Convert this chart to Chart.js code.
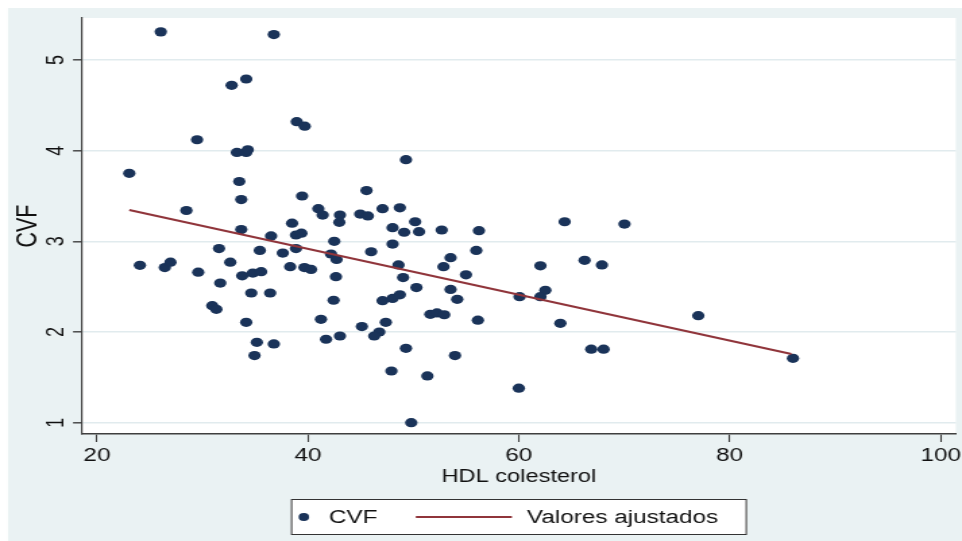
<!DOCTYPE html>
<html>
<head>
<meta charset="utf-8">
<script src="https://cdn.jsdelivr.net/npm/chart.js@4.4.1/dist/chart.umd.min.js"></script>
<style>
  html, body { margin: 0; padding: 0; background: #ffffff; }
  #c { display: block; width: 962px; height: 541px; }
</style>
</head>
<body>
<canvas id="c" width="713" height="541" style="width:962px;height:541px;display:block"></canvas>
<script>
// ---- data ----
const hdl = [26.05, 36.77, 32.77, 34.15, 38.94, 39.70, 29.49, 33.27, 34.15, 34.30,
  49.30, 23.06, 33.49, 33.68, 39.45, 45.56, 28.48, 40.99, 41.40, 43.04,
  44.96, 45.69, 47.08, 48.72, 42.98, 33.68, 38.50, 36.51, 38.87, 39.38,
  48.03, 49.13, 42.50, 31.57, 35.44, 37.62, 38.87, 42.19, 42.72, 46.00,
  48.03, 24.07, 26.43, 26.97, 29.60, 32.64, 31.69, 33.77, 34.78, 35.57,
  38.32, 39.67, 40.30, 42.66, 48.59, 49.03, 34.63, 36.42, 42.44, 30.93,
  31.32, 47.08, 48.03, 48.72, 34.15, 41.24, 47.39, 46.77, 46.29, 45.12,
  41.72, 43.04, 35.16, 36.77, 34.94, 49.30, 47.92, 49.80, 50.17, 50.54,
  52.69, 56.22, 64.35, 55.97, 53.53, 52.86, 54.99, 62.05, 50.29, 53.53,
  54.16, 62.52, 62.05, 60.07, 51.61, 52.24, 52.93, 56.12, 63.94, 53.95,
  51.33, 60.00, 70.02, 66.24, 67.88, 66.87, 68.04, 77.02, 86.00];
const cvf = [5.31, 5.28, 4.72, 4.79, 4.32, 4.27, 4.12, 3.98, 3.98, 4.01,
  3.90, 3.75, 3.66, 3.46, 3.50, 3.56, 3.34, 3.36, 3.29, 3.29,
  3.30, 3.28, 3.36, 3.37, 3.21, 3.13, 3.20, 3.06, 3.07, 3.09,
  3.15, 3.10, 3.00, 2.92, 2.90, 2.87, 2.92, 2.86, 2.80, 2.885,
  2.97, 2.735, 2.71, 2.77, 2.66, 2.77, 2.54, 2.62, 2.65, 2.665,
  2.72, 2.71, 2.69, 2.61, 2.74, 2.60, 2.43, 2.43, 2.35, 2.29,
  2.25, 2.345, 2.37, 2.41, 2.107, 2.14, 2.107, 2.00, 1.956, 2.06,
  1.92, 1.956, 1.886, 1.868, 1.74, 1.82, 1.57, 1.00, 3.216, 3.106,
  3.125, 3.117, 3.216, 2.90, 2.82, 2.72, 2.63, 2.73, 2.49, 2.47,
  2.36, 2.46, 2.39, 2.39, 2.195, 2.21, 2.19, 2.13, 2.096, 1.74,
  1.515, 1.38, 3.19, 2.79, 2.74, 1.81, 1.81, 2.18, 1.71];
const fitHdl = [23.06, 85.85];
const fitCvf = [3.345, 1.757];
const xTicks = [20, 40, 60, 80, 100];
const yTicks = [1, 2, 3, 4, 5];
const seriesNames = ['CVF', 'Valores ajustados'];
const xTitle = 'HDL colesterol';
const yTitle = 'CVF';

// ---- styling ----
const NAVY = '#1a3359';
const MAROON = '#90353b';
const OUTER = '#eaf2f3';
const GRID = '#e1ebee';
const AXIS = '#3f3f3f';
const FONT = '"Liberation Sans", Arial, Helvetica, sans-serif';

const scatterData = hdl.map((x, i) => ({ x: x, y: cvf[i] }));
const fitData = fitHdl.map((x, i) => ({ x: x, y: fitCvf[i] }));

const bgPlugin = {
  id: 'bg',
  beforeDraw(chart) {
    const { ctx, width, height, chartArea: a } = chart;
    ctx.save();
    ctx.fillStyle = '#ffffff';
    ctx.fillRect(0, 0, width, height);
    ctx.fillStyle = OUTER;
    ctx.fillRect(5.9, 8, width - 5.9, height - 8);
    ctx.fillStyle = '#ffffff';
    ctx.fillRect(a.left, a.top, a.right - a.left, a.bottom - a.top);
    ctx.restore();
  }
};

const yLabelPlugin = {
  id: 'ylabels',
  afterDraw(chart) {
    const { ctx } = chart;
    const ys = chart.scales.y;
    ctx.save();
    ctx.fillStyle = '#111';
    ctx.font = '18px ' + FONT;
    ctx.textAlign = 'center';
    ctx.textBaseline = 'middle';
    yTicks.forEach(v => {
      const py = ys.getPixelForValue(v);
      ctx.save();
      ctx.translate(41.5, py);
      ctx.rotate(-Math.PI / 2);
      ctx.fillText(String(v), 0, 1);
      ctx.restore();
    });
    ctx.restore();
  }
};

const legendPlugin = {
  id: 'boxlegend',
  afterDraw(chart) {
    const { ctx, chartArea: a } = chart;
    const ds = chart.data.datasets;
    const boxW = 338, boxH = 36;
    const cx = (a.left + a.right) / 2;
    const L = cx - boxW / 2, T = 499;
    const midY = T + boxH / 2;
    ctx.save();
    ctx.fillStyle = '#ffffff';
    ctx.fillRect(L, T, boxW, boxH);
    ctx.strokeStyle = '#333';
    ctx.lineWidth = 1;
    ctx.strokeRect(L + 0.5, T + 0.5, boxW - 1, boxH - 1);
    // scatter marker
    ctx.fillStyle = ds[1].backgroundColor;
    ctx.beginPath();
    ctx.arc(L + 9.6, midY, 3.9, 0, Math.PI * 2);
    ctx.fill();
    ctx.fillStyle = '#111';
    ctx.font = '18px ' + FONT;
    ctx.textAlign = 'left';
    ctx.textBaseline = 'middle';
    ctx.fillText(ds[1].label, L + 28.2, midY + 1);
    // line marker
    ctx.strokeStyle = ds[0].borderColor;
    ctx.lineWidth = 2;
    ctx.beginPath();
    ctx.moveTo(L + 92.6, midY);
    ctx.lineTo(L + 163.8, midY);
    ctx.stroke();
    ctx.fillText(ds[0].label, L + 174.9, midY + 1);
    ctx.restore();
  }
};

new Chart(document.getElementById('c'), {
  data: {
    datasets: [
      {
        type: 'line',
        label: seriesNames[1],
        data: fitData,
        borderColor: MAROON,
        backgroundColor: MAROON,
        borderWidth: 2,
        pointRadius: 0,
        fill: false,
        tension: 0,
        order: 0
      },
      {
        type: 'scatter',
        label: seriesNames[0],
        data: scatterData,
        backgroundColor: NAVY,
        borderColor: NAVY,
        borderWidth: 0,
        pointRadius: 4.6,
        pointStyle: 'circle',
        order: 1
      }
    ]
  },
  options: {
    responsive: false,
    animation: false,
    events: [],
    layout: { padding: { top: 18, right: 3, bottom: 0, left: 0 } },
    plugins: {
      legend: { display: false },
      tooltip: { enabled: false },
      title: { display: false }
    },
    scales: {
      x: {
        type: 'linear',
        position: 'bottom',
        min: 18.583,
        max: 101.44,
        afterBuildTicks: s => { s.ticks = xTicks.map(v => ({ value: v })); },
        afterFit: s => { s.height = 107; s.paddingLeft = 0; s.paddingRight = 0; },
        border: { display: true, color: AXIS, width: 1.6 },
        grid: { drawOnChartArea: false, drawTicks: true, tickLength: 8, tickColor: AXIS, tickWidth: 1.1 },
        ticks: {
          color: '#111',
          font: { family: FONT, size: 18 },
          padding: 3,
          maxRotation: 0,
          autoSkip: false,
          callback: v => String(v)
        },
        title: {
          display: true,
          text: xTitle,
          color: '#111',
          font: { family: FONT, size: 17.5 },
          padding: { top: 0, bottom: 53 }
        }
      },
      y: {
        type: 'linear',
        position: 'left',
        min: 0.875,
        max: 5.463,
        afterBuildTicks: s => { s.ticks = yTicks.map(v => ({ value: v })); },
        afterFit: s => { s.width = 60.8; s.paddingTop = 0; s.paddingBottom = 0; },
        border: { display: true, color: AXIS, width: 1.2 },
        grid: { color: GRID, lineWidth: 1.6, drawTicks: true, tickLength: 6.7, tickColor: AXIS, tickWidth: 1.4 },
        ticks: { display: false },
        title: {
          display: true,
          text: yTitle,
          color: '#111',
          font: { family: FONT, size: 21.5 },
          padding: { top: 8, bottom: 0 }
        }
      }
    }
  },
  plugins: [bgPlugin, yLabelPlugin, legendPlugin]
});
</script>
</body>
</html>
